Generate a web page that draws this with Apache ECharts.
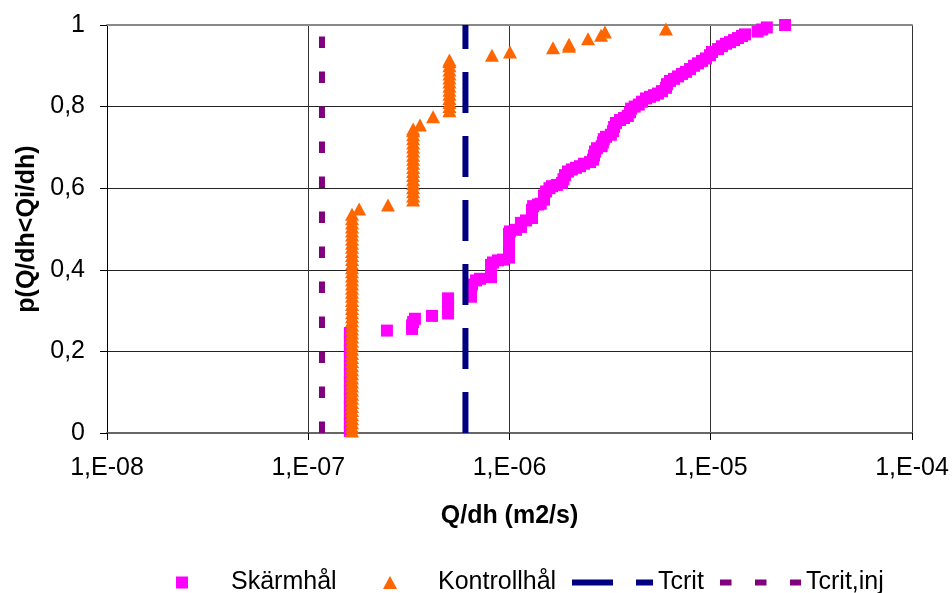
<!DOCTYPE html>
<html>
<head>
<meta charset="utf-8">
<script src="https://cdn.jsdelivr.net/npm/echarts@6/dist/echarts.min.js"></script>
<style>
html,body{margin:0;padding:0;background:#fff;}
#c{width:952px;height:593px;}
</style>
</head>
<body>
<div id="c"></div>
<script>
// ---- data ----
const seriesNames = ['Skärmhål', 'Kontrollhål', 'Tcrit', 'Tcrit,inj'];

const skarmQ = [
  1.61e-7,1.61e-7,1.61e-7,1.61e-7,1.61e-7,1.61e-7,1.61e-7,1.61e-7,1.61e-7,1.61e-7,1.61e-7,1.61e-7,1.61e-7,
  2.46e-7,3.28e-7,3.28e-7,3.32e-7,3.39e-7,4.12e-7,
  4.95e-7,4.95e-7,4.95e-7,4.95e-7,4.95e-7,
  6.44e-7,6.44e-7,6.44e-7,6.51e-7,6.82e-7,7.135e-7,
  8.09e-7,8.09e-7,8.09e-7,8.09e-7,8.28e-7,8.77e-7,9.28e-7,
  9.94e-7,9.94e-7,9.94e-7,9.94e-7,9.94e-7,9.94e-7,9.94e-7,1.006e-6,1.077e-6,
  1.14e-6,1.14e-6,1.208e-6,1.294e-6,1.294e-6,1.294e-6,1.31e-6,1.385e-6,
  1.43e-6,1.484e-6,1.484e-6,1.52e-6,1.58e-6,1.627e-6,1.72e-6,1.824e-6,1.854e-6,1.887e-6,1.953e-6,
  2.04e-6,2.14e-6,2.24e-6,2.346e-6,2.512e-6,2.60e-6,2.63e-6,2.66e-6,2.72e-6,2.87e-6,2.91e-6,2.94e-6,3.017e-6,
  3.19e-6,3.27e-6,3.31e-6,3.383e-6,3.541e-6,3.707e-6,3.87e-6,3.97e-6,4.02e-6,4.19e-6,4.39e-6,4.554e-6,4.768e-6,
  4.991e-6,5.224e-6,5.47e-6,5.726e-6,5.99e-6,6.06e-6,6.275e-6,6.569e-6,6.88e-6,7.196e-6,7.53e-6,7.89e-6,
  8.258e-6,8.643e-6,9.05e-6,9.47e-6,9.91e-6,1.0144e-5,1.087e-5,1.137e-5,1.191e-5,1.246e-5,1.305e-5,1.366e-5,
  1.43e-5,1.48e-5,1.71e-5,1.80e-5,1.90e-5,2.34e-5
];
const skarmP = [
  0.005,0.025,0.045,0.065,0.085,0.105,0.125,0.145,0.165,0.185,0.205,0.225,0.245,
  0.251,0.255,0.264,0.272,0.28,0.287,
  0.293,0.303,0.313,0.323,0.33,
  0.334,0.344,0.354,0.364,0.374,0.378,
  0.382,0.392,0.402,0.412,0.418,0.423,0.425,
  0.43,0.44,0.45,0.46,0.47,0.48,0.488,0.494,0.498,
  0.505,0.515,0.521,0.527,0.537,0.547,0.556,0.56,
  0.562,0.572,0.582,0.592,0.600,0.605,0.608,0.613,0.622,0.632,0.641,
  0.646,0.650,0.654,0.660,0.664,0.670,0.680,0.690,0.698,0.703,0.712,0.720,0.726,
  0.731,0.740,0.750,0.760,0.767,0.772,0.777,0.786,0.795,0.800,0.805,0.812,0.820,
  0.824,0.828,0.832,0.838,0.846,0.855,0.863,0.868,0.874,0.880,0.885,0.892,
  0.900,0.906,0.912,0.918,0.926,0.934,0.941,0.948,0.954,0.958,0.963,0.968,
  0.973,0.977,0.984,0.989,0.994,1.0
];

const kontrQ = [
  1.65e-7,1.65e-7,1.65e-7,1.65e-7,1.65e-7,1.65e-7,1.65e-7,1.65e-7,1.65e-7,1.65e-7,
  1.65e-7,1.65e-7,1.65e-7,1.65e-7,1.65e-7,1.65e-7,1.65e-7,1.65e-7,1.65e-7,1.65e-7,
  1.65e-7,1.65e-7,1.65e-7,1.65e-7,1.65e-7,1.65e-7,1.65e-7,1.65e-7,1.65e-7,1.65e-7,
  1.65e-7,1.65e-7,1.65e-7,1.65e-7,1.65e-7,1.65e-7,1.65e-7,1.65e-7,1.65e-7,1.65e-7,
  1.65e-7,1.65e-7,1.65e-7,1.65e-7,1.65e-7,1.65e-7,1.65e-7,1.65e-7,1.65e-7,1.65e-7,
  1.65e-7,1.65e-7,1.65e-7,1.65e-7,
  1.79e-7,2.49e-7,
  3.32e-7,3.32e-7,3.32e-7,3.32e-7,3.32e-7,3.32e-7,3.32e-7,3.32e-7,3.32e-7,3.32e-7,
  3.32e-7,3.32e-7,3.32e-7,3.32e-7,3.32e-7,3.32e-7,3.32e-7,3.32e-7,3.32e-7,
  3.59e-7,4.17e-7,
  5.03e-7,5.03e-7,5.03e-7,5.03e-7,5.03e-7,5.03e-7,5.03e-7,5.03e-7,5.03e-7,5.03e-7,
  5.03e-7,5.03e-7,5.03e-7,5.03e-7,
  8.18e-7,1.006e-6,1.645e-6,1.976e-6,1.976e-6,2.455e-6,2.85e-6,2.98e-6,5.99e-6
];
const kontrP = [
  0.005,0.015,0.025,0.035,0.045,0.055,0.065,0.075,0.085,0.095,
  0.105,0.115,0.125,0.135,0.145,0.155,0.165,0.175,0.185,0.195,
  0.205,0.215,0.225,0.235,0.245,0.255,0.265,0.275,0.285,0.295,
  0.305,0.315,0.325,0.335,0.345,0.355,0.365,0.375,0.385,0.395,
  0.405,0.415,0.425,0.435,0.445,0.455,0.465,0.475,0.485,0.495,
  0.505,0.515,0.525,0.536,
  0.549,0.559,
  0.571,0.581,0.591,0.601,0.611,0.621,0.631,0.641,0.651,0.661,
  0.671,0.681,0.691,0.701,0.711,0.721,0.731,0.741,0.745,
  0.755,0.775,
  0.79,0.80,0.81,0.82,0.83,0.84,0.85,0.86,0.87,0.88,
  0.89,0.90,0.91,0.914,
  0.926,0.934,0.944,0.948,0.953,0.966,0.975,0.983,0.99
];

const tcritQ = [6.04e-7, 6.04e-7];
const tcritP = [0, 1];
const tcritInjQ = [1.17e-7, 1.17e-7];
const tcritInjP = [0, 1];

const xMin = 1e-8, xMax = 1e-4;
const xTitle = 'Q/dh (m2/s)';
const yTitle = 'p(Q/dh<Qi/dh)';

// ---- build ----
const zip = (a, b) => a.map((v, i) => [v, b[i]]);
const FONT = '"Liberation Sans", Arial, sans-serif';
const FS = 25;
const TCRIT_DASH = [41, 23];
const TCRITINJ_DASH = [11.5, 23.5];

const chart = echarts.init(document.getElementById('c'), null, {renderer: 'canvas'});

const legendText = {fontFamily: FONT, fontSize: FS, color: '#000'};
const legendBase = {orient: 'horizontal', top: 570, padding: 0, selectedMode: false, textStyle: legendText};

chart.setOption({
  animation: false,
  backgroundColor: '#fff',
  grid: {left: 107, right: 40, top: 25, bottom: 160, containLabel: false},
  xAxis: [{
    type: 'log', logBase: 10, min: xMin, max: xMax,
    name: xTitle, nameLocation: 'middle', nameGap: 71,
    nameTextStyle: {fontFamily: FONT, fontSize: FS, fontWeight: 'bold', color: '#000'},
    axisLine: {show: true, lineStyle: {color: '#666', width: 2}},
    axisTick: {show: true, inside: false, length: 7, lineStyle: {color: '#000', width: 1}},
    axisLabel: {
      margin: 23, fontFamily: FONT, fontSize: FS, color: '#000',
      formatter: function (v) {
        const e = Math.round(Math.log10(v));
        return '1,E' + (e < 0 ? '-' : '+') + String(Math.abs(e)).padStart(2, '0');
      }
    },
    splitLine: {show: true, showMinLine: false, showMaxLine: false, lineStyle: {color: '#333', width: 1}}
  }, {
    type: 'log', logBase: 10, min: xMin, max: xMax, position: 'top',
    axisLine: {show: true, lineStyle: {color: '#888', width: 2}},
    axisTick: {show: false}, axisLabel: {show: false}, splitLine: {show: false}
  }],
  yAxis: {
    type: 'value', min: 0, max: 1, interval: 0.2,
    name: yTitle, nameLocation: 'middle', nameGap: 64, nameRotate: 90,
    nameTextStyle: {fontFamily: FONT, fontSize: FS, fontWeight: 'bold', color: '#000'},
    axisLine: {show: true, lineStyle: {color: '#000', width: 1}},
    axisTick: {show: true, inside: false, length: 7, lineStyle: {color: '#000'}},
    axisLabel: {
      margin: 22, fontFamily: FONT, fontSize: FS, color: '#000',
      formatter: function (v) { return String(Math.round(v * 10) / 10).replace('.', ','); }
    },
    splitLine: {show: true, showMinLine: false, showMaxLine: false, lineStyle: {color: '#222', width: 1}}
  },
  legend: [
    Object.assign({}, legendBase, {left: 176, data: [seriesNames[0]], icon: 'rect', itemWidth: 12, itemHeight: 12,
      textStyle: Object.assign({}, legendText, {padding: [0, 0, 0, 38]})}),
    Object.assign({}, legendBase, {left: 383, data: [seriesNames[1]], icon: 'triangle', itemWidth: 14, itemHeight: 13,
      textStyle: Object.assign({}, legendText, {padding: [0, 0, 0, 36]})}),
    Object.assign({}, legendBase, {left: 569, data: [seriesNames[2]], itemWidth: 81, itemHeight: 14,
      itemStyle: {opacity: 0, borderWidth: 0},
      lineStyle: {width: 6, color: '#000080', type: TCRIT_DASH}}),
    Object.assign({}, legendBase, {left: 717, data: [seriesNames[3]], itemWidth: 81, itemHeight: 14,
      itemStyle: {opacity: 0, borderWidth: 0},
      lineStyle: {width: 6, color: '#800080', type: TCRITINJ_DASH}})
  ],
  series: [
    {
      name: seriesNames[0], type: 'scatter', data: zip(skarmQ, skarmP),
      symbol: 'rect', symbolSize: 12,
      itemStyle: {color: '#FF00FF', opacity: 1}
    },
    {
      name: seriesNames[1], type: 'scatter', data: zip(kontrQ, kontrP),
      symbol: 'triangle', symbolSize: [14, 13],
      itemStyle: {color: '#FF6600', opacity: 1}
    },
    {
      name: seriesNames[2], type: 'line', data: zip(tcritQ, tcritP),
      symbol: 'none', showSymbol: false,
      lineStyle: {color: '#000080', width: 6, type: TCRIT_DASH},
      itemStyle: {color: '#000080'}
    },
    {
      name: seriesNames[3], type: 'line', data: zip(tcritInjQ, tcritInjP),
      symbol: 'none', showSymbol: false,
      lineStyle: {color: '#800080', width: 6, type: TCRITINJ_DASH},
      itemStyle: {color: '#800080'}
    }
  ]
});
</script>
</body>
</html>
